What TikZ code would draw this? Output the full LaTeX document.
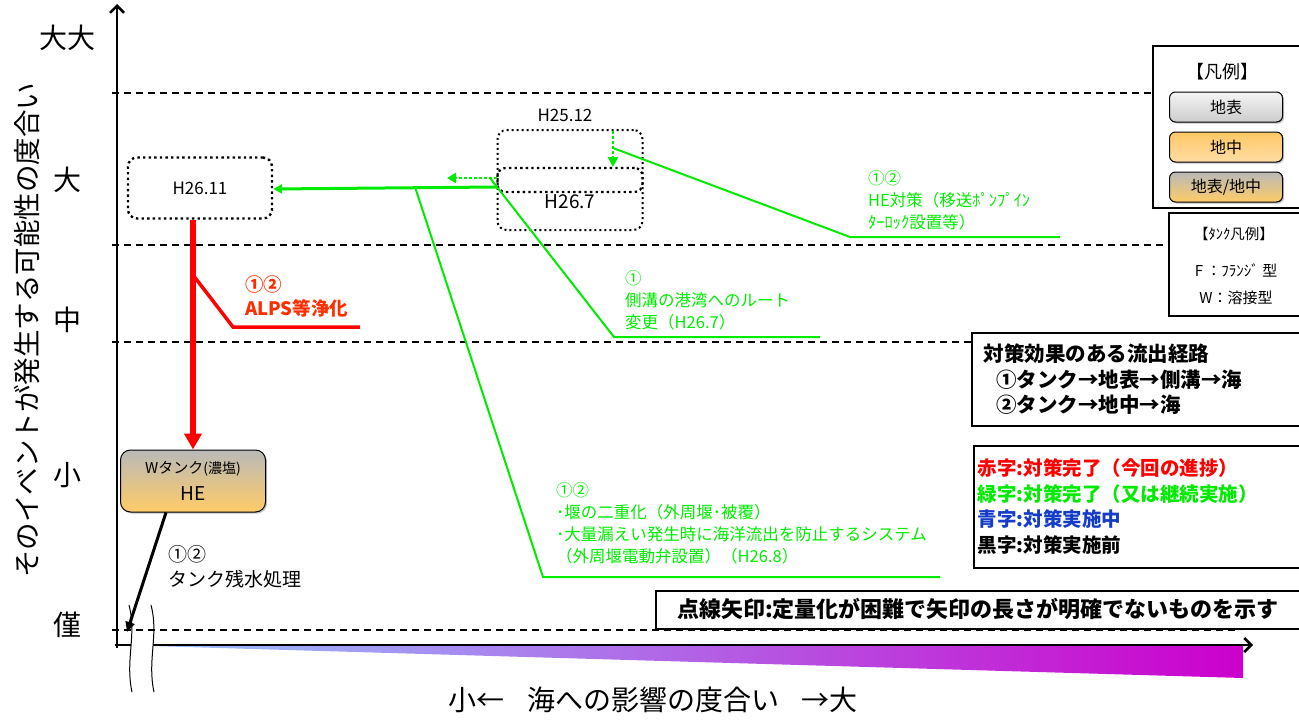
\documentclass[tikz,border=0pt]{standalone}
\usepackage{fontspec}
\setmainfont{Noto Sans CJK JP}
\usetikzlibrary{arrows.meta,shadows}
\definecolor{lgreen}{RGB}{0,235,0}
\definecolor{alpsred}{RGB}{255,45,0}
\definecolor{tblue}{RGB}{20,60,200}
\definecolor{gtop}{RGB}{185,185,185}
\definecolor{oran}{RGB}{255,204,102}
\definecolor{skyb}{RGB}{150,200,255}
\definecolor{mage}{RGB}{204,0,204}
\begin{document}
\begin{tikzpicture}[
    x=1pt, y=-1pt,
    every node/.style={inner sep=0pt},
    period/.style={draw, rounded corners=9pt, line width=2.4pt, dash pattern=on 2.4pt off 3.2pt},
    gtext/.style={text=lgreen, anchor=west, align=left, font=\fontsize{16.5}{22}\selectfont},
    lev/.style={font=\fontsize{28}{28}\selectfont},
    frame/.style={draw, line width=1.5pt},
    key/.style={draw, rounded corners=6pt, line width=1pt, minimum width=113pt, minimum height=30pt,
      font=\fontsize{16}{16}\selectfont, drop shadow={shadow xshift=1.5pt, shadow yshift=-1.5pt, opacity=0.5}},
    gline/.style={lgreen, line width=2pt},
    dline/.style={line width=1.4pt, dash pattern=on 7pt off 5pt}
    ]

    \useasboundingbox (0,0) rectangle (1299,720);

    \shade[left color=skyb, right color=mage] (117,645) -- (1243,645) -- (1243,678) -- cycle;

    \draw[line width=2.5pt, -{Straight Barb[length=7pt,width=14pt]}] (117,648) -- (117,4);
    \draw[line width=2.5pt, -{Straight Barb[length=7pt,width=14pt]}] (115,645) -- (1253,645);

    \fill[white] (129,605) .. controls (137,635) and (125,660) .. (132,692) -- (154,692) .. controls (147,660) and (159,635) .. (151,605) -- cycle;
    \draw[line width=1pt] (129,605) .. controls (137,635) and (125,660) .. (132,692);
    \draw[line width=1pt] (151,605) .. controls (159,635) and (147,660) .. (154,692);

    \draw[dline] (112,93) -- (1152,93);
    \draw[dline] (112,245) -- (1168,245);
    \draw[dline] (112,342) -- (973,342);
    \draw[dline] (112,630) -- (1240,630);

    \node[lev] (ybigbig) at (67,38) {大大};
    \node[lev] (ybig) at (67,180) {大};
    \node[lev] (ymid) at (67,320) {中};
    \node[lev] (ysmall) at (67,475) {小};
    \node[lev] (ytiny) at (67,625) {僅};
    \node[font=\fontsize{27.5}{27.5}\selectfont, rotate=90] (ytitle) at (27,330) {そのイベントが発生する可能性の度合い};
    \node[font=\fontsize{28}{28}\selectfont] (xtitle) at (653,700) {小←\hspace{0.8em}海への影響の度合い\hspace{0.8em}→大};

    \node[period, minimum width=144pt, minimum height=61pt, font=\fontsize{17}{17}\selectfont] (h2611) at (200,188) {H26.11};
    \node[period, line width=2pt, dash pattern=on 2pt off 3pt, minimum width=145pt, minimum height=100pt] (h2512) at (570,180) {};
    \node[period, line width=2.2pt, rounded corners=8pt, minimum width=145pt, minimum height=24pt] (h267bar) at (570,180) {};
    \node[font=\fontsize{17}{17}\selectfont] (h2512lab) at (565,115) {H25.12};
    \node[font=\fontsize{19}{19}\selectfont] (h267lab) at (570,202) {H26.7};

    \node[draw, rounded corners=10pt, line width=1pt, minimum width=145pt, minimum height=62pt, top color=gtop, bottom color=oran,
      drop shadow={shadow xshift=1.5pt, shadow yshift=-1.5pt, opacity=0.5}, align=center, font=\fontsize{15}{27}\selectfont] (wtank) at (193,481)
      {Wタンク{\fontsize{14}{27}\selectfont(濃塩)}\\{\fontsize{19}{19}\selectfont HE}};

    \coordinate (gdotend) at (447,178);
    \coordinate (gdowntop) at (613,131);
    \coordinate (gdownend) at (613,167);
    \draw[lgreen, line width=3pt, -{Triangle[length=9pt,width=9pt]}] ([yshift=-7pt]h2512.west) -- ([yshift=-1pt]h2611.east);
    \draw[lgreen, line width=2.5pt, dash pattern=on 2.5pt off 2.5pt, -{Triangle[length=9pt,width=10pt]}] ([yshift=2pt]h2512.west) -- (gdotend);
    \draw[lgreen, line width=2.5pt, dash pattern=on 2.5pt off 2.5pt, -{Triangle[length=10pt,width=10pt]}] (gdowntop) -- (gdownend);

    \draw[red, line width=6pt, -{Triangle[length=16pt,width=17pt]}] (h2611.south -| wtank.north) -- (wtank.north);
    \coordinate (alpsa) at (193,275);
    \coordinate (alpsb) at (233,327);
    \coordinate (alpsc) at (360,327);
    \draw[red, line width=3.5pt] (alpsa) -- (alpsb) -- (alpsc);
    \node[text=alpsred, anchor=west, align=left, font=\bfseries\fontsize{18.5}{24}\selectfont] (alpslab) at (245,296) {①②\\ALPS等浄化};

    \coordinate (tankend) at (127,632);
    \draw[line width=3pt, -{Triangle[length=10pt,width=9pt]}] ([xshift=-27pt]wtank.south) -- (tankend);
    \node[anchor=west, align=left, font=\fontsize{19}{25}\selectfont] (tanklab) at (168,567) {①②\\タンク残水処理};

    \coordinate (pumpa) at (613,148);
    \coordinate (pumpb) at (850,237);
    \coordinate (pumpc) at (1060,237);
    \draw[gline] (pumpa) -- (pumpb) -- (pumpc);
    \node[gtext] (pumplab) at (868,200) {①②\\HE対策（移送ﾎﾟﾝﾌﾟｲﾝ\\ﾀｰﾛｯｸ設置等）};

    \coordinate (routea) at (490,178);
    \coordinate (routeb) at (614,337);
    \coordinate (routec) at (820,337);
    \draw[gline] (routea) -- (routeb) -- (routec);
    \node[gtext] (routelab) at (625,300) {①\\側溝の港湾へのルート\\変更（H26.7）};

    \coordinate (weira) at (415,187);
    \coordinate (weirb) at (543,577);
    \coordinate (weirc) at (940,577);
    \draw[gline] (weira) -- (weirb) -- (weirc);
    \node[gtext] (weirlab) at (556,523) {①②\\･堰の二重化（外周堰･被覆）\\･大量漏えい発生時に海洋流出を防止するシステム\\（外周堰電動弁設置）（H26.8）};

    \node[frame, fill=white, minimum width=152pt, minimum height=162pt, anchor=north west] (legend) at (1152,45) {};
    \node[font=\fontsize{18}{18}\selectfont] (legtitle) at (1222,72) {【凡例】};
    \node[key, top color=gray!8, bottom color=gray!40] (kground) at (1226,107) {地表};
    \node[key, top color={rgb,255:red,255;green,200;blue,100}, bottom color={rgb,255:red,255;green,220;blue,165}] (kunder) at (1226,147) {地中};
    \node[key, top color=gtop, bottom color=oran] (kboth) at (1226,187) {地表/地中};

    \node[frame, fill=white, minimum width=136pt, minimum height=103pt, anchor=north west] (tanklegend) at (1168,212) {};
    \node[font=\fontsize{14.5}{14.5}\selectfont] (tanktitle) at (1234,234) {【ﾀﾝｸ凡例】};
    \node[font=\fontsize{15}{15}\selectfont] (tankf) at (1236,270) {F ：ﾌﾗﾝｼﾞ 型};
    \node[font=\fontsize{15}{15}\selectfont] (tankw) at (1236,298) {W：溶接型};

    \node[frame, fill=white, minimum width=332pt, minimum height=93pt, anchor=north west, text width=308pt, align=left,
      inner xsep=12pt, font=\bfseries\fontsize{20.5}{25.5}\selectfont] (effect) at (971,332)
      {対策効果のある流出経路\\\hspace*{0.6em}①タンク→地表→側溝→海\\\hspace*{0.6em}②タンク→地中→海};

    \node[frame, fill=white, minimum width=330pt, minimum height=122pt, anchor=north west, text width=322pt, align=left,
      inner xsep=3pt, font=\bfseries\fontsize{19.5}{25.5}\selectfont] (colors) at (973,445)
      {\textcolor{red}{赤字:対策完了（今回の進捗）}\\\textcolor{lgreen}{緑字:対策完了（又は継続実施）}\\\textcolor{tblue}{青字:対策実施中}\\黒字:対策実施前};

    \node[frame, fill=white, minimum width=650pt, minimum height=38pt, anchor=north west] (note) at (655,590) {};
    \node[font=\bfseries\fontsize{22}{22}\selectfont] (notetext) at (978,609)
      {点線矢印:定量化が困難で矢印の長さが明確でないものを示す};

\end{tikzpicture}
\end{document}
